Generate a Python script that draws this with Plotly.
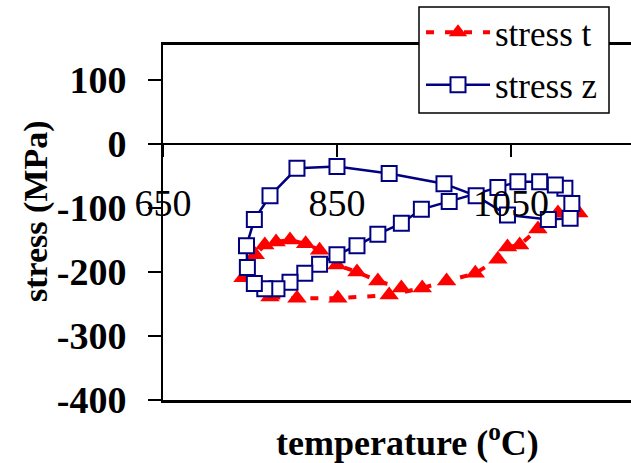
import plotly.graph_objects as go

# ---- data ----
temp_t = [1128, 1104, 1081, 1060, 1046, 1035, 1009, 976, 948, 910, 851, 804,
          773, 742, 756, 767, 780, 796, 814, 830, 850, 873, 897, 924]
stress_t = [-108, -108, -133, -158, -161, -180, -202, -214, -225, -236, -241, -241,
            -239, -209, -173, -158, -153, -150, -156, -166, -189, -200, -214, -225]

temp_z = [747, 746, 755, 773, 804, 850, 910, 973, 1010, 1046, 1093, 1118,
          1120, 1112, 1101, 1083, 1058, 1035, 979, 947, 924, 897, 873, 850,
          830, 813, 796, 781, 767, 755]
stress_z = [-193, -159, -118, -81, -38, -35, -46, -62, -81, -111, -118, -116,
            -93, -69, -64, -59, -59, -68, -90, -102, -124, -141, -159, -173,
            -188, -202, -216, -226, -226, -218]

x_ticks = [650, 850, 1050]
y_ticks = [-400, -300, -200, -100, 0, 100]
x_range = [650, 1188]
y_range = [-400, 154.7]

FONT = "Liberation Serif, Times New Roman, serif"
W, H = 631, 463
L, R, T, B = 163, 0, 45, 63
PW, PH = W - L - R, H - T - B


def px_x(px):
    return (px - L) / PW


def px_y(py):
    return (H - B - py) / PH


fig = go.Figure()
fig.add_trace(go.Scatter(
    x=temp_t, y=stress_t, name="stress t", mode="lines+markers",
    legendgroup="t", xaxis="x", yaxis="y",
    line=dict(color="#FF0000", width=4, dash="8px,11px"),
    marker=dict(symbol="triangle-up", size=17, color="#FF0000"),
))
fig.add_trace(go.Scatter(
    x=temp_z, y=stress_z, name="stress z", mode="lines+markers",
    legendgroup="z", xaxis="x2", yaxis="y",
    line=dict(color="#000080", width=2.5),
    marker=dict(symbol="square", size=15, color="white",
                line=dict(color="#000080", width=2)),
))

zero_pos = (0 - y_range[0]) / (y_range[1] - y_range[0])

shapes = [
    # legend frame
    dict(type="rect", xref="paper", yref="paper",
         x0=px_x(419), x1=px_x(609), y0=px_y(113), y1=px_y(7),
         fillcolor="white", line=dict(color="black", width=1.5), layer="above"),
]

fig.update_layout(
    width=W, height=H,
    margin=dict(l=L, r=R, t=T, b=B, autoexpand=False),
    paper_bgcolor="white", plot_bgcolor="white",
    font=dict(family=FONT, color="black"),
    showlegend=True,
    legend=dict(
        xref="container", yref="container",
        x=421 / W, y=1 - 3 / H, xanchor="left", yanchor="top",
        bgcolor="rgba(0,0,0,0)", borderwidth=0,
        font=dict(family=FONT, size=35, color="black"),
        itemwidth=64, tracegroupgap=4,
    ),
    # frame axis: bottom border + mirrored top border
    xaxis=dict(
        range=x_range, anchor="y", side="bottom", automargin=False,
        showline=True, mirror=True, linecolor="black", linewidth=2.5,
        ticks="", showticklabels=False, showgrid=False, zeroline=False,
    ),
    # temperature axis crossing at stress = 0
    xaxis2=dict(
        matches="x", overlaying="x", anchor="free", position=zero_pos,
        side="bottom", automargin=False,
        tickvals=x_ticks, ticktext=[str(v) for v in x_ticks],
        showline=True, linecolor="black", linewidth=2,
        ticks="outside", ticklen=12, tickwidth=2, tickcolor="black",
        showgrid=False, zeroline=False,
        tickfont=dict(family=FONT, size=38, color="black"),
        ticklabelstandoff=13,
    ),
    yaxis=dict(
        range=y_range, tickvals=y_ticks, ticktext=[str(v) for v in y_ticks],
        automargin=False,
        showline=True, linecolor="black", linewidth=2,
        ticks="outside", ticklen=13, tickwidth=2, tickcolor="black",
        showgrid=False, zeroline=False,
        tickfont=dict(family=FONT, size=38, color="black", weight="bold"),
        ticklabelstandoff=14,
    ),
    shapes=shapes,
    annotations=[
        dict(text="<b>temperature (<sup>o</sup>C)</b>", xref="paper", yref="paper",
             x=px_x(407), y=px_y(440), showarrow=False,
             xanchor="center", yanchor="middle",
             font=dict(family=FONT, size=36, color="black")),
        dict(text="<b>stress (MPa)</b>", xref="paper", yref="paper",
             x=px_x(36), y=px_y(211), showarrow=False,
             textangle=-90, xanchor="center", yanchor="middle",
             font=dict(family=FONT, size=34, color="black")),
    ],
)

fig.write_html("out.html")
